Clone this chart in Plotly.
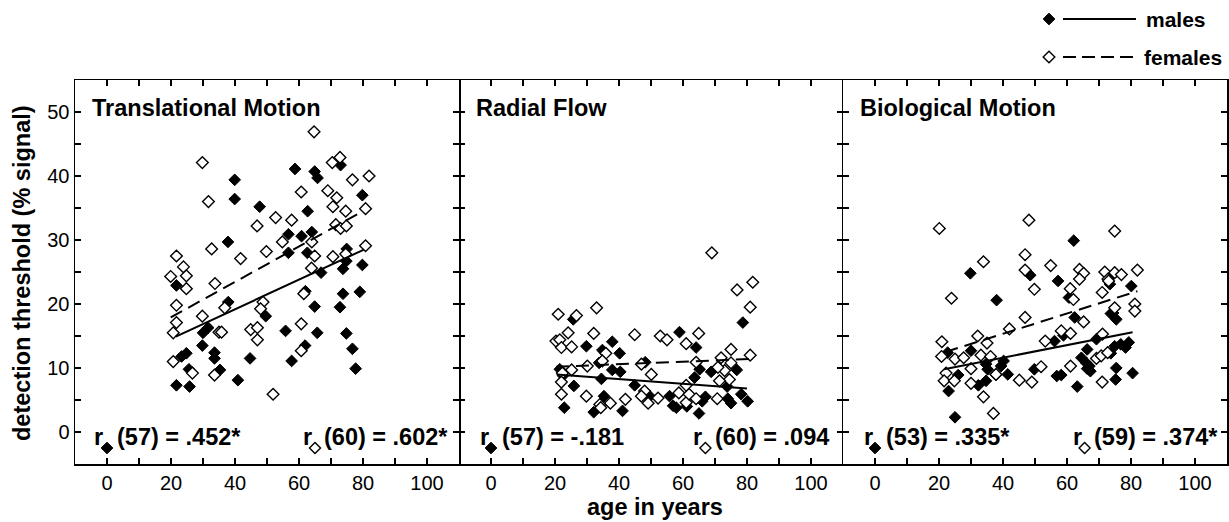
import plotly.graph_objects as go

# ---------------- data ----------------
panel_titles = ["Translational Motion", "Radial Flow", "Biological Motion"]

tm_male_age = [73, 58.75, 64.9, 65.8, 39.9, 39.9, 79.8, 47.7, 62.7, 37.8, 56.7, 60.8, 64, 74.9, 56.7, 62.6,
               74.8, 73.75, 79.8, 66.9, 21.7, 62, 73.75, 79, 64.9, 72.8, 37.9, 49.6, 30, 31.6, 55.8, 65.7,
               74.8, 29.8, 23.3, 24.8, 33.6, 33.6, 61.9, 44.7, 57.7, 76.7, 77.7, 25.6, 35.3, 40.9, 21.7, 25.8]
tm_male_thr = [41.7, 41.1, 40.7, 39.7, 39.4, 36.4, 37.0, 35.2, 34.5, 29.7, 30.9, 30.6, 31.25, 28.6, 28.0, 28.0,
               26.7, 25.5, 26.1, 24.9, 22.9, 22, 21.6, 21.9, 19.6, 19.5, 20.3, 18.1, 15.5, 16.3, 15.8, 15.5,
               15.4, 13.5, 11.8, 12.3, 12.4, 11.5, 13.5, 11.5, 11.1, 13, 9.9, 9.8, 9.7, 8.1, 7.3, 7.1]
tm_female_age = [64.7, 29.8, 70.4, 72.8, 81.9, 76.7, 31.7, 60.7, 69, 71.8, 70.6, 74.6, 80.8, 52.7, 57.7, 46.9,
                 71.5, 73, 74.8, 54.8, 64, 32.7, 80.8, 49.8, 64.9, 74.6, 21.7, 41.75, 70.6, 63.9, 23.9, 24.8,
                 19.9, 24.8, 33.75, 61.5, 36.8, 48.75, 48, 21.7, 29.8, 21.7, 20.7, 35, 35.8, 44.9, 47, 47,
                 60.7, 20.7, 60.7, 26.7, 33.6, 51.9]
tm_female_thr = [46.9, 42.1, 42.1, 42.9, 40, 39.4, 36, 37.5, 37.7, 36.6, 35.2, 34.5, 34.9, 33.5, 33.1, 32.2,
                 32.4, 31.8, 32.2, 29.7, 29.7, 28.6, 29.1, 28.2, 27.5, 27.8, 27.5, 27.1, 27.4, 25.6, 25.8, 24.4,
                 24.3, 22.4, 23.2, 21.6, 19.4, 20.3, 19.25, 19.8, 18.1, 17.1, 15.5, 15.6, 15.6, 16, 16.3, 14.4,
                 16.9, 11, 12.7, 9.2, 8.9, 5.9]

rf_male_age = [25.7, 78.7, 29.8, 37.9, 34.8, 40.2, 58.9, 64.1, 33.8, 37.9, 40.4, 34.5, 48.2, 65.2, 63.6, 68.8,
               76.8, 73.8, 25.9, 44.9, 35.3, 22.9, 32.1, 41.1, 49.6, 55.8, 56.9, 57.9, 61.2, 67, 66, 65,
               74, 75, 78.2, 80.2, 21.5, 22.5]
rf_male_thr = [17.6, 17.1, 13.4, 14.1, 12.8, 12.3, 15.6, 13.2, 10.8, 9.7, 9.4, 8.3, 10.9, 9.8, 8.5, 9.4,
               9.7, 7.1, 7.2, 7.3, 5.6, 3.8, 3.1, 3.3, 5.6, 5.6, 4.1, 3.8, 4, 5.5, 4.8, 2.9,
               5.2, 4.5, 5.9, 4.8, 9.8, 8.8]
rf_female_age = [69, 81.8, 76.9, 81, 33, 21, 26.7, 20.3, 21.5, 22, 24.1, 25.2, 32.1, 35.9, 44.9, 52.9, 55,
                 61, 64.9, 75, 81, 30.1, 34.8, 22.3, 25.2, 47, 50.1, 64.1, 71.9, 75, 73, 70.9, 74.5, 71.4,
                 22, 22, 48, 47, 29.8, 37.3, 34, 34.3, 42, 49.1, 52.2, 58.7, 61, 61.9, 61, 64.1, 70.7]
rf_female_thr = [28, 23.4, 22.2, 19.5, 19.4, 18.4, 18.2, 14.2, 14.4, 13.2, 15.5, 13.3, 15.4, 12.3, 15.2, 15, 14.4,
                 13.8, 15.4, 12.9, 12, 10.3, 11.1, 9.2, 9.7, 10.6, 9, 10.9, 11.6, 10.8, 9.6, 10.1, 8.2, 8,
                 7.8, 5.9, 6.4, 5.6, 5.6, 4.5, 4.3, 3.8, 5.1, 4.5, 5.3, 6.1, 4.6, 5.9, 7.3, 5.2, 5.2]

bm_male_age = [62.1, 29.8, 48.5, 57.2, 73.4, 80.1, 60.6, 38, 74.4, 75.4, 73.7, 62.4, 58.9, 56.1, 69.2, 30,
               22.7, 34.7, 35.2, 40.2, 39.4, 41.5, 26, 23, 32.3, 34.7, 25, 49.8, 56.8, 58.2, 63.2, 66.3,
               64.5, 66, 67, 67.3, 66.3, 73.7, 74.9, 76.8, 78.3, 79.3, 75.4, 75.2, 80.5, 37.8]
bm_male_thr = [29.9, 24.8, 24.5, 23.6, 23.1, 22.8, 21, 20.6, 18.6, 17.6, 18.5, 17.9, 15.1, 14.2, 14.5, 12.7,
               12.4, 10.6, 9.8, 11.1, 10.3, 9, 8.9, 6.4, 7.3, 8, 2.3, 9.8, 8.75, 8.9, 7.1, 12.9,
               11.6, 10.8, 10.3, 9.5, 9.9, 12.3, 13.4, 13.7, 13.2, 14, 10, 8.2, 9.2, 8.95]
bm_female_age = [20.1, 48.1, 74.9, 46.9, 33.9, 46.9, 54.9, 63.9, 65.2, 63.9, 49.8, 71.8, 74.9, 77, 82, 72.8,
                 73, 71, 61, 62, 23.9, 74.9, 81.2, 81.2, 46.9, 42, 65.2, 58.2, 61.1, 53.2, 71.1, 20.9,
                 32.1, 35, 20.8, 25, 27.7, 33.1, 36.1, 30, 37.8, 22.2, 21.6, 24.8, 30, 33.9, 37, 51.9,
                 45.1, 49, 61.1, 69.2, 70.7, 72.7, 71]
bm_female_thr = [31.8, 33.1, 31.4, 27.7, 26.6, 25.3, 26, 25.4, 24.8, 23.9, 22.3, 25, 24.9, 24.6, 25.3, 23.9,
                 23.6, 21.8, 22.4, 20.7, 20.9, 19.4, 20, 18.9, 17.9, 16.1, 17.2, 15.8, 15.4, 14.2, 15.3, 14.1,
                 15, 13.9, 11.8, 11.4, 11.6, 12, 11.8, 9.9, 9, 9.2, 8, 8, 7.6, 5.5, 2.9, 10.2,
                 8.1, 7.8, 10.3, 11.5, 11.9, 12.4, 7.8]

# regression line end points (age, threshold)
male_fit_age = [[21.5, 80.3], [20.5, 80.0], [21.6, 80.5]]
male_fit_thr = [[14.9, 28.5], [9.0, 6.8], [9.8, 15.6]]
female_fit_age = [[19.9, 80.0], [20.3, 80.8], [22.0, 82.0]]
female_fit_thr = [[17.9, 34.5], [10.2, 11.4], [12.5, 22.0]]

male_r_text = ["(57) = .452*", "(57) = -.181", "(53) = .335*"]
female_r_text = ["(60) = .602*", "(60) = .094", "(59) = .374*"]

x_ticks = [0, 10, 20, 30, 40, 50, 60, 70, 80, 90, 100]
y_ticks = [0, 5, 10, 15, 20, 25, 30, 35, 40, 45, 50]

male_age = [tm_male_age, rf_male_age, bm_male_age]
male_thr = [tm_male_thr, rf_male_thr, bm_male_thr]
female_age = [tm_female_age, rf_female_age, bm_female_age]
female_thr = [tm_female_thr, rf_female_thr, bm_female_thr]

# ---------------- layout helpers ----------------
W, H = 1229, 522
FONT = "Liberation Sans, Arial, sans-serif"
edges = [75, 459, 843, 1227]
top_px, bot_px = 80, 464
ydom = [(H - bot_px) / H, (H - top_px) / H]

# annotation placement (per panel): r-letter x, diamond x, text x
male_ann_x = [(-4.6, 0, 2.5), (-4.0, 0, 2.8), (-4.0, 0, 2.8)]
female_ann_x = [(60.5, 65.0, 67.3), (62.6, 67.0, 69.3), (61.1, 65.5, 67.8)]

fig = go.Figure()
black = "#000000"
filled = dict(symbol="diamond", size=9, color=black, line=dict(color=black, width=1))
opened = dict(symbol="diamond", size=9, color="white", line=dict(color=black, width=1.4))
BOLD_SIZE = 23.5

annotations = []
for i in range(3):
    xa = "x" if i == 0 else f"x{i+1}"
    ya = "y" if i == 0 else f"y{i+1}"
    fig.add_trace(go.Scatter(x=male_age[i], y=male_thr[i], mode="markers", marker=filled,
                             xaxis=xa, yaxis=ya, showlegend=False))
    fig.add_trace(go.Scatter(x=female_age[i], y=female_thr[i], mode="markers", marker=opened,
                             xaxis=xa, yaxis=ya, showlegend=False))
    fig.add_trace(go.Scatter(x=male_fit_age[i], y=male_fit_thr[i], mode="lines",
                             line=dict(color=black, width=2), xaxis=xa, yaxis=ya, showlegend=False))
    fig.add_trace(go.Scatter(x=female_fit_age[i], y=female_fit_thr[i], mode="lines",
                             line=dict(color=black, width=2, dash="13px,7px"),
                             xaxis=xa, yaxis=ya, showlegend=False))
    # subscript diamonds of r labels
    fig.add_trace(go.Scatter(x=[male_ann_x[i][1]], y=[-2.5], mode="markers", marker=filled,
                             xaxis=xa, yaxis=ya, showlegend=False))
    fig.add_trace(go.Scatter(x=[female_ann_x[i][1]], y=[-2.5], mode="markers",
                             marker=dict(opened, size=8.5), xaxis=xa, yaxis=ya, showlegend=False))

    bold = dict(family=FONT, size=BOLD_SIZE, color=black)
    annotations.append(dict(x=-5.3, y=50.6, xref=xa, yref=ya, text=f"<b>{panel_titles[i]}</b>",
                            showarrow=False, xanchor="left", yanchor="middle", font=bold))
    for (rx, dx, tx), txt in ((male_ann_x[i], male_r_text[i]), (female_ann_x[i], female_r_text[i])):
        annotations.append(dict(x=rx, y=-0.8, xref=xa, yref=ya, text="<b>r</b>", showarrow=False,
                                xanchor="left", yanchor="middle", font=bold))
        annotations.append(dict(x=tx, y=-0.8, xref=xa, yref=ya, text=f"<b>{txt}</b>", showarrow=False,
                                xanchor="left", yanchor="middle", font=bold))

    axis_common = dict(linecolor=black, linewidth=1.5, mirror="ticks",
                       ticks="inside", ticklen=6, tickwidth=1.3, tickcolor=black,
                       showgrid=False, zeroline=False, automargin=False,
                       tickfont=dict(family=FONT, size=20, color=black))
    fig.update_layout(**{
        ("xaxis" if i == 0 else f"xaxis{i+1}"): dict(
            axis_common, showline=True, domain=[edges[i] / W, edges[i + 1] / W], range=[-10, 110],
            anchor=ya, tickvals=x_ticks,
            ticktext=[str(v) if v % 20 == 0 else "" for v in x_ticks]),
        ("yaxis" if i == 0 else f"yaxis{i+1}"): dict(
            axis_common, showline=(i != 1), domain=ydom, range=[-5, 55], anchor=xa, tickvals=y_ticks,
            ticktext=[str(v) if v % 10 == 0 else "" for v in y_ticks],
            showticklabels=(i == 0)),
    })

# pixel-space overlay for legend and axis titles
fig.update_layout(
    xaxis4=dict(domain=[0, 1], range=[0, W], visible=False, anchor="y4", fixedrange=True, automargin=False),
    yaxis4=dict(domain=[0, 1], range=[H, 0], visible=False, anchor="x4", fixedrange=True, automargin=False),
)
legend_names = ["males", "females"]
legend_y = [19, 57]
fig.add_trace(go.Scatter(x=[1049], y=[legend_y[0]], mode="markers", marker=filled,
                         xaxis="x4", yaxis="y4", showlegend=False))
fig.add_trace(go.Scatter(x=[1063, 1136], y=[legend_y[0]] * 2, mode="lines",
                         line=dict(color=black, width=2), xaxis="x4", yaxis="y4", showlegend=False))
fig.add_trace(go.Scatter(x=[1049], y=[legend_y[1]], mode="markers", marker=opened,
                         xaxis="x4", yaxis="y4", showlegend=False))
fig.add_trace(go.Scatter(x=[1063, 1136], y=[legend_y[1]] * 2, mode="lines",
                         line=dict(color=black, width=2, dash="13px,6px"),
                         xaxis="x4", yaxis="y4", showlegend=False))
for nm, ly, lx in zip(legend_names, legend_y, [1144, 1142]):
    annotations.append(dict(x=lx, y=ly, xref="x4", yref="y4", text=f"<b>{nm}</b>", showarrow=False,
                            xanchor="left", yanchor="middle",
                            font=dict(family=FONT, size=21, color=black)))

annotations.append(dict(x=655, y=507, xref="x4", yref="y4", text="<b>age in years</b>", showarrow=False,
                        xanchor="center", yanchor="middle", font=dict(family=FONT, size=BOLD_SIZE, color=black)))
annotations.append(dict(x=22, y=273, xref="x4", yref="y4", text="<b>detection threshold (% signal)</b>",
                        showarrow=False, textangle=-90, xanchor="center", yanchor="middle",
                        font=dict(family=FONT, size=BOLD_SIZE, color=black)))

fig.update_layout(width=W, height=H, margin=dict(l=0, r=0, t=0, b=0, autoexpand=False),
                  paper_bgcolor="white", plot_bgcolor="rgba(0,0,0,0)",
                  annotations=annotations, showlegend=False, hovermode=False,
                  font=dict(family=FONT, color=black))
fig.write_html("out.html", config={"displayModeBar": False, "staticPlot": True},
               post_script="document.body.style.margin='0px';document.body.style.overflow='hidden';")
